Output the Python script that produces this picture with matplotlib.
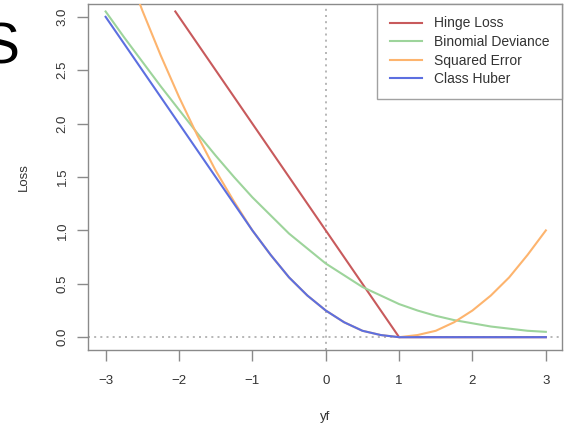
import matplotlib
matplotlib.use("Agg")
import matplotlib.pyplot as plt

plt.rcParams['font.family'] = ['Liberation Sans', 'DejaVu Sans']

# ---- data ----
yf_grid = [-3.0, -2.75, -2.5, -2.25, -2.0, -1.75, -1.5, -1.25, -1.0, -0.75, -0.5, -0.25,
           0.0, 0.25, 0.5, 0.75, 1.0, 1.25, 1.5, 1.75, 2.0, 2.25, 2.5, 2.75, 3.0]

hinge_x = [-2.05, 1.0, 3.0]
hinge_y = [3.05, 0.0, 0.0]

binomial_y = [3.05, 2.81, 2.58, 2.35, 2.13, 1.91, 1.70, 1.50, 1.31, 1.14, 0.97, 0.83,
              0.69, 0.58, 0.47, 0.39, 0.31, 0.25, 0.20, 0.16, 0.13, 0.10, 0.08, 0.06, 0.05]

squared_x = yf_grid[1:]
squared_y = [3.52, 3.06, 2.64, 2.25, 1.89, 1.56, 1.27, 1.00, 0.77, 0.56, 0.39,
             0.25, 0.14, 0.06, 0.02, 0.0, 0.02, 0.06, 0.14, 0.25, 0.39, 0.56, 0.77, 1.00]

huber_y = [3.0, 2.75, 2.5, 2.25, 2.0, 1.75, 1.5, 1.25, 1.0, 0.77, 0.56, 0.39,
           0.25, 0.14, 0.06, 0.02, 0.0, 0.0, 0.0, 0.0, 0.0, 0.0, 0.0, 0.0, 0.0]

labels = ["Hinge Loss", "Binomial Deviance", "Squared Error", "Class Huber"]
colors = ["#C85A5C", "#9DD49B", "#FDB46E", "#5C6FE0"]

x_ticks = [-3, -2, -1, 0, 1, 2, 3]
x_ticklabels = ["\u22123", "\u22122", "\u22121", "0", "1", "2", "3"]
y_ticks = [0.0, 0.5, 1.0, 1.5, 2.0, 2.5, 3.0]
y_ticklabels = ["0.0", "0.5", "1.0", "1.5", "2.0", "2.5", "3.0"]

# ---- figure ----
fig = plt.figure(figsize=(5.65, 4.26), dpi=100)
ax = fig.add_axes([88/565, 76/426, (562-88)/565, (350-4)/426])

ax.axvline(0, color="#AAAAAA", lw=1.2, ls=(0, (1.2, 2.5)), zorder=1)
ax.axhline(0, color="#AAAAAA", lw=1.2, ls=(0, (1.2, 2.5)), zorder=1)

lw = 1.5
ax.plot(hinge_x, hinge_y, color=colors[0], lw=lw, label=labels[0], zorder=2)
ax.plot(yf_grid, binomial_y, color=colors[1], lw=lw, label=labels[1], zorder=3)
ax.plot(squared_x, squared_y, color=colors[2], lw=lw, label=labels[2], zorder=4)
ax.plot(yf_grid, huber_y, color=colors[3], lw=lw, label=labels[3], zorder=5)

ax.set_xlim(-3.24, 3.22)
ax.set_ylim(-0.12, 3.12)

ax.set_xticks(x_ticks)
ax.set_xticklabels(x_ticklabels)
ax.set_yticks(y_ticks)
ax.set_yticklabels(y_ticklabels, rotation=90, va="center")

for s in ax.spines.values():
    s.set_color("#8A8A8A")
    s.set_linewidth(1.0)
ax.tick_params(axis="both", direction="out", length=8, width=1.0, color="#8A8A8A",
               labelsize=9.5, labelcolor="#333333")
ax.tick_params(axis="x", pad=10)
ax.tick_params(axis="y", pad=6)

ax.set_xlabel("yf", fontsize=9.5, color="#333333", labelpad=17)
ax.set_ylabel("Loss", fontsize=9.5, color="#333333", labelpad=19)

leg = ax.legend(loc="upper right", borderaxespad=0, fontsize=10, frameon=True,
                fancybox=False, edgecolor="#8A8A8A", handlelength=2.3,
                handletextpad=0.9, labelspacing=0.33, borderpad=0.9)
leg.get_frame().set_linewidth(1.0)
for t in leg.get_texts():
    t.set_color("#333333")

fig.text(-0.032, (426-63)/426, "S", fontsize=41, color="black", ha="left", va="baseline")

fig.savefig("out.png", dpi=100)
